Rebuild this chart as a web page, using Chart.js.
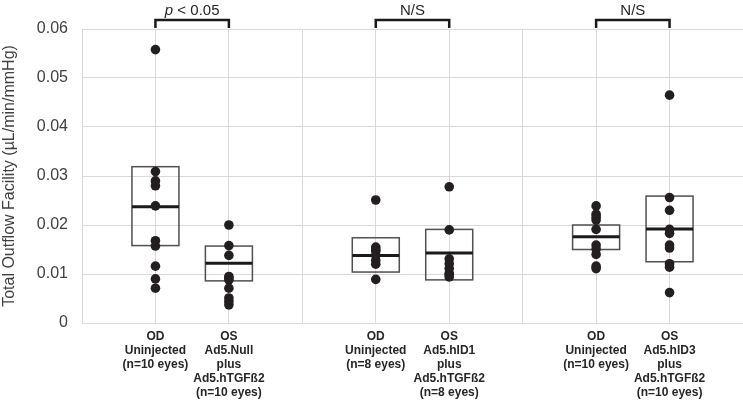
<!DOCTYPE html>
<html>
<head>
<meta charset="utf-8">
<script src="https://cdn.jsdelivr.net/npm/chart.js@4"></script>
<style>
  html, body { margin: 0; padding: 0; background: #fff; }
  #wrap { width: 743px; height: 400px; }
</style>
</head>
<body>
<div id="wrap"><canvas id="ChOutflow"></canvas></div>
<script>
// category labels (one per position on the x axis)
const Categorias = {
    1: ['OD', 'Uninjected', '(n=10 eyes)'],
    2: ['OS', 'Ad5.Null', 'plus', 'Ad5.hTGFß2', '(n=10 eyes)'],
    4: ['OD', 'Uninjected', '(n=8 eyes)'],
    5: ['OS', 'Ad5.hID1', 'plus', 'Ad5.hTGFß2', '(n=8 eyes)'],
    7: ['OD', 'Uninjected', '(n=10 eyes)'],
    8: ['OS', 'Ad5.hID3', 'plus', 'Ad5.hTGFß2', '(n=10 eyes)']
};
const Posiciones = [1, 2, 4, 5, 7, 8];

// individual eyes
const OD_Null = [0.0558, 0.0309, 0.0290, 0.0280, 0.0239, 0.0168, 0.0157, 0.0116, 0.0090, 0.0071];
const OS_Null = [0.0200, 0.0158, 0.0138, 0.0095, 0.0092, 0.0088, 0.0071, 0.0051, 0.0044, 0.0037];
const OD_ID1 = [0.0251, 0.0155, 0.0150, 0.0147, 0.0138, 0.0128, 0.0120, 0.0089];
const OS_ID1 = [0.0278, 0.0190, 0.0131, 0.0121, 0.0111, 0.0101, 0.0098, 0.0094];
const OD_ID3 = [0.0239, 0.0222, 0.0216, 0.0210, 0.0191, 0.0159, 0.0151, 0.0140, 0.0116, 0.0111];
const OS_ID3 = [0.0465, 0.0256, 0.0230, 0.0191, 0.0183, 0.0159, 0.0153, 0.0121, 0.0114, 0.0062];
const Grupos = [OD_Null, OS_Null, OD_ID1, OS_ID1, OD_ID3, OS_ID3];

// box stats (q1, median, q3) per category
const BoxQ1 = [0.0158, 0.0086, 0.0104, 0.0088, 0.0150, 0.0125];
const BoxMediana = [0.0237, 0.0122, 0.0138, 0.0143, 0.0176, 0.0192];
const BoxQ3 = [0.0319, 0.0157, 0.0174, 0.0191, 0.0200, 0.0259];

// significance brackets
const Comparaciones = [[1, 2], [4, 5], [7, 8]];
const Significancia = ['p', 'N/S', 'N/S'];

const Fuente = "'Liberation Sans', Arial, sans-serif";

const BoxPlugin = {
    id: 'boxPlugin',
    beforeDatasetsDraw(chart) {
        const { ctx, scales: { x, y } } = chart;
        const halfW = 0.32;
        ctx.save();
        Posiciones.forEach((pos, i) => {
            const x0 = x.getPixelForValue(pos - halfW);
            const x1 = x.getPixelForValue(pos + halfW);
            const yTop = y.getPixelForValue(BoxQ3[i]);
            const yBot = y.getPixelForValue(BoxQ1[i]);
            const yMed = y.getPixelForValue(BoxMediana[i]);
            ctx.strokeStyle = '#505050';
            ctx.lineWidth = 1.5;
            ctx.strokeRect(x0, yTop, x1 - x0, yBot - yTop);
            ctx.strokeStyle = '#1a1a1a';
            ctx.lineWidth = 3;
            ctx.beginPath();
            ctx.moveTo(x0, yMed);
            ctx.lineTo(x1, yMed);
            ctx.stroke();
        });
        ctx.restore();
    },
    afterDraw(chart) {
        const { ctx, scales: { x }, chartArea } = chart;
        ctx.save();
        Comparaciones.forEach((par, i) => {
            const xa = x.getPixelForValue(par[0]);
            const xb = x.getPixelForValue(par[1]);
            const yb = chartArea.top - 9;
            ctx.strokeStyle = '#1a1a1a';
            ctx.lineWidth = 2.5;
            ctx.beginPath();
            ctx.moveTo(xa, chartArea.top - 1);
            ctx.lineTo(xa, yb);
            ctx.lineTo(xb, yb);
            ctx.lineTo(xb, chartArea.top - 1);
            ctx.stroke();

            const cx = (xa + xb) / 2;
            ctx.fillStyle = '#262626';
            ctx.textBaseline = 'middle';
            if (Significancia[i] === 'p') {
                const p1 = 'p';
                const p2 = ' < 0.05';
                ctx.font = 'italic 15px ' + Fuente;
                const w1 = ctx.measureText(p1).width;
                ctx.font = '15px ' + Fuente;
                const w2 = ctx.measureText(p2).width;
                let sx = cx - (w1 + w2) / 2;
                ctx.textAlign = 'left';
                ctx.font = 'italic 15px ' + Fuente;
                ctx.fillText(p1, sx, 11);
                ctx.font = '15px ' + Fuente;
                ctx.fillText(p2, sx + w1, 11);
            } else {
                ctx.textAlign = 'center';
                ctx.font = '15px ' + Fuente;
                ctx.fillText(Significancia[i], cx, 11);
            }
        });
        ctx.restore();
    }
};

const ctx = document.getElementById('ChOutflow');
const ChOutflow = new Chart(ctx, {
    type: 'scatter',
    data: {
        datasets: Grupos.map((vals, i) => ({
            data: vals.map(v => ({ x: Posiciones[i], y: v })),
            backgroundColor: '#231f20',
            borderColor: '#231f20',
            pointRadius: 4.8,
            pointHoverRadius: 4.8,
            borderWidth: 0
        }))
    },
    options: {
        responsive: true,
        maintainAspectRatio: false,
        animation: false,
        layout: { autoPadding: false, padding: { top: 29, right: 0, left: 0, bottom: 0 } },
        plugins: {
            legend: { display: false },
            tooltip: { enabled: false }
        },
        scales: {
            x: {
                type: 'linear',
                min: 0,
                max: 9,
                grid: { color: '#d9d9d9', lineWidth: 1, drawTicks: false },
                border: { color: '#d9d9d9' },
                afterFit: (s) => { s.height = 77; s.paddingRight = 0; s.paddingLeft = 0; },
                ticks: {
                    stepSize: 1,
                    autoSkip: false,
                    maxRotation: 0,
                    padding: 7,
                    color: '#262626',
                    font: { family: Fuente, size: 12, weight: 'bold', lineHeight: 1.17 },
                    callback: (v) => Categorias[v] || ''
                }
            },
            y: {
                min: 0,
                max: 0.06,
                grid: { color: '#d9d9d9', lineWidth: 1, drawTicks: false },
                border: { color: '#d9d9d9' },
                afterFit: (s) => { s.width = 82; },
                title: {
                    display: true,
                    text: 'Total Outflow Facility (µL/min/mmHg)',
                    color: '#404040',
                    font: { family: Fuente, size: 16 },
                    padding: { top: 0, bottom: 0 }
                },
                ticks: {
                    stepSize: 0.01,
                    padding: 14,
                    color: '#404040',
                    font: { family: Fuente, size: 16 },
                    callback: (v) => v === 0 ? '0' : v.toFixed(2)
                }
            }
        }
    },
    plugins: [BoxPlugin]
});
</script>
</body>
</html>
